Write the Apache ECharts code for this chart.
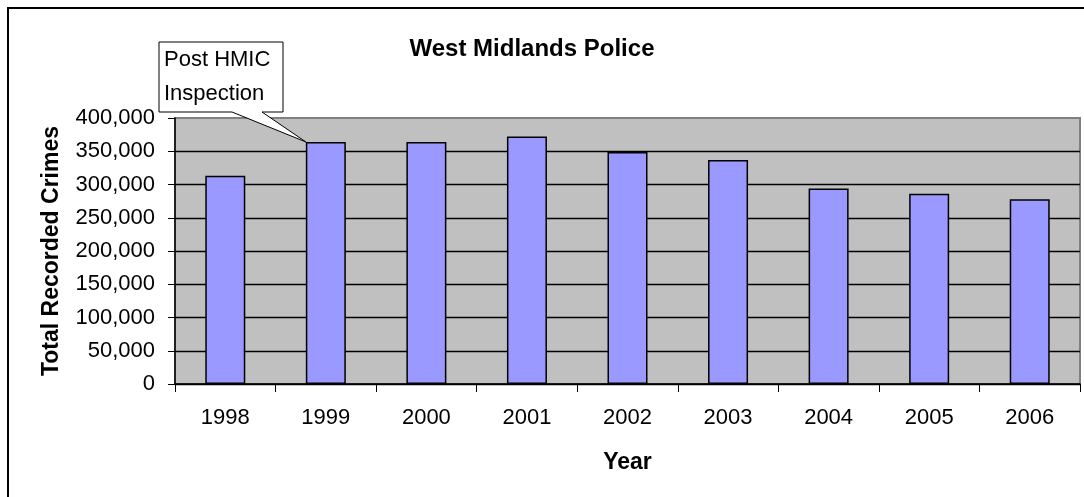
<!DOCTYPE html>
<html>
<head>
<meta charset="utf-8">
<script src="https://cdn.jsdelivr.net/npm/echarts@6/dist/echarts.min.js"></script>
<style>
html,body{margin:0;padding:0;background:#fff;}
#chart{width:1084px;height:497px;}
</style>
</head>
<body>
<div id="chart"></div>
<script>
var categories = ['1998','1999','2000','2001','2002','2003','2004','2005','2006'];
var crimes = [313000, 364000, 364000, 372000, 349000, 337000, 294000, 286000, 278000];
var yTicks = [0, 50000, 100000, 150000, 200000, 250000, 300000, 350000, 400000];
var calloutLines = ['Post HMIC', 'Inspection'];
var calloutCategory = '1999';

var FONT = '"Liberation Sans", Arial, sans-serif';
var chart = echarts.init(document.getElementById('chart'), null, {renderer:'canvas'});

var option = {
  animation: false,
  backgroundColor: '#ffffff',
  title: {
    text: 'West Midlands Police',
    left: 532, top: 32, textAlign: 'center',
    textStyle: {fontFamily: FONT, fontSize: 24, fontWeight: 'bold', color: '#000'}
  },
  grid: {
    left: 175, right: 4, top: 118, height: 266,
    show: true, backgroundColor: '#C0C0C0', borderColor: '#808080', borderWidth: 2
  },
  xAxis: {
    type: 'category',
    data: categories,
    name: 'Year',
    nameLocation: 'middle',
    nameGap: 67,
    nameTextStyle: {fontFamily: FONT, fontSize: 23, fontWeight: 'bold', color: '#000'},
    axisLine: {show: true, lineStyle: {color: '#000', width: 1.5}},
    axisTick: {show: true, length: 8, alignWithLabel: false, lineStyle: {color: '#000', width: 1}},
    axisLabel: {fontFamily: FONT, fontSize: 22, color: '#000', margin: 23}
  },
  yAxis: {
    type: 'value',
    min: yTicks[0], max: yTicks[yTicks.length - 1], interval: yTicks[1] - yTicks[0],
    name: 'Total Recorded Crimes',
    nameLocation: 'middle',
    nameGap: 112,
    nameTextStyle: {fontFamily: FONT, fontSize: 23, fontWeight: 'bold', color: '#000'},
    axisLine: {show: true, lineStyle: {color: '#000', width: 1.5}},
    axisTick: {show: true, length: 7, lineStyle: {color: '#000', width: 1}},
    axisLabel: {
      fontFamily: FONT, fontSize: 22, color: '#000', margin: 20,
      formatter: function (v) { return v.toLocaleString('en-US'); }
    },
    splitLine: {show: true, showMaxLine: false, lineStyle: {color: '#000', width: 1.3}}
  },
  series: [{
    type: 'bar',
    data: crimes,
    barWidth: 40,
    itemStyle: {color: '#9999FF', borderColor: '#000', borderWidth: 1.5}
  }]
};
chart.setOption(option);

// Callout annotation pointing to top-left corner of the chosen bar
var idx = categories.indexOf(calloutCategory);
var tip = chart.convertToPixel({seriesIndex: 0}, [idx, crimes[idx]]);
var tipX = tip[0] - 20, tipY = tip[1];
var boxX = 159, boxY = 42, boxW = 124, boxH = 70;
var pAx = 232, pBx = 262, bottom = boxY + boxH;
chart.setOption({
  title: {left: 527},
  graphic: [
    {
      type: 'rect', silent: true, z: 100,
      shape: {x: 8, y: 8, width: 1100, height: 520},
      style: {fill: 'none', stroke: '#000', lineWidth: 2}
    },
    {
      type: 'polygon', z: 100,
      shape: {points: [
        [boxX, boxY], [boxX + boxW, boxY], [boxX + boxW, bottom],
        [pBx, bottom], [tipX, tipY], [pAx, bottom], [boxX, bottom]
      ]},
      style: {fill: '#fff', stroke: '#000', lineWidth: 1}
    },
    {
      type: 'text', z: 101,
      left: boxX + 5, top: boxY + 1,
      style: {
        text: calloutLines.join('\n'),
        font: '22px ' + FONT, fill: '#000', lineHeight: 34
      }
    }
  ]
});
</script>
</body>
</html>
